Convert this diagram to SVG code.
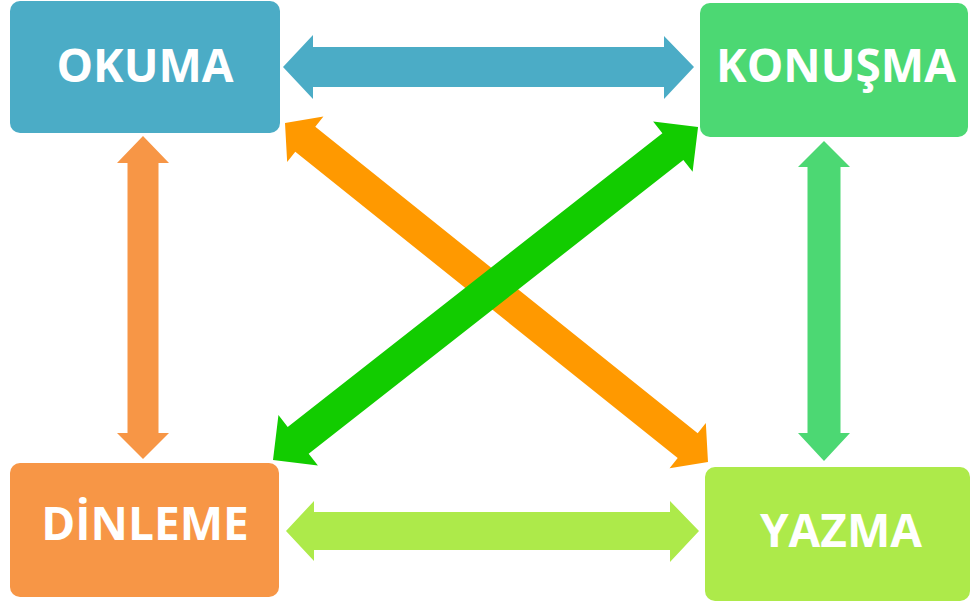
<svg xmlns="http://www.w3.org/2000/svg" width="970" height="603" viewBox="0 0 970 603">
<style>
.box{stroke:none}
.lbl{font-family:"Open Sans","Liberation Sans",sans-serif;font-weight:700;font-size:46px;fill:#ffffff;text-anchor:middle}
</style>
<rect width="970" height="603" fill="#ffffff"/>
<g id="connectors">
<path id="okuma-konusma" fill="#4BACC6" d="M283,67 L313,35 L313,47 L664,47 L664,36 L694,67 L664,99 L664,87 L313,87 L313,99 Z"/>
<path id="dinleme-yazma" fill="#ADEA4A" d="M286,531 L314,501 L314,512 L670,512 L670,501 L699,531 L670,562 L670,550 L314,550 L314,561 Z"/>
<path id="okuma-dinleme" fill="#F79646" d="M143,136 L169,163 L158.5,163 L158.5,433 L169,433 L143,459 L117,433 L127.5,433 L127.5,163 L117,163 Z"/>
<path id="konusma-yazma" fill="#4CD873" d="M824,141 L850,167 L840.5,167 L840.5,433 L850,433 L824,461 L798,433 L807.5,433 L807.5,167 L798,167 Z"/>
<path id="okuma-yazma" fill="#FF9900" transform="translate(285,123) rotate(38.7)" d="M0,0 L26,-29 L26,-16 L516,-16 L516,-29 L542,0 L516,29 L516,16 L26,16 L26,29 Z"/>
<path id="dinleme-konusma" fill="#12CC00" transform="translate(273,460) rotate(-38.08)" d="M0,0 L32,-32 L32,-17 L508,-17 L508,-32 L540,0 L508,32 L508,17 L32,17 L32,32 Z"/>
</g>
<g id="okuma">
<rect class="box" x="10" y="1" width="270" height="132" rx="10" fill="#4BACC6"/>
<text class="lbl" x="145" y="82">OKUMA</text>
</g>
<g id="konusma">
<rect class="box" x="700" y="3" width="268" height="134" rx="10" fill="#4CD873"/>
<text class="lbl" x="836" y="82">KONUŞMA</text>
</g>
<g id="dinleme">
<rect class="box" x="10" y="463" width="269" height="134" rx="10" fill="#F79646"/>
<text class="lbl" x="145" y="540">DİNLEME</text>
</g>
<g id="yazma">
<rect class="box" x="705" y="467" width="265" height="134" rx="10" fill="#ADEA4A"/>
<text class="lbl" x="841" y="547">YAZMA</text>
</g>
</svg>
